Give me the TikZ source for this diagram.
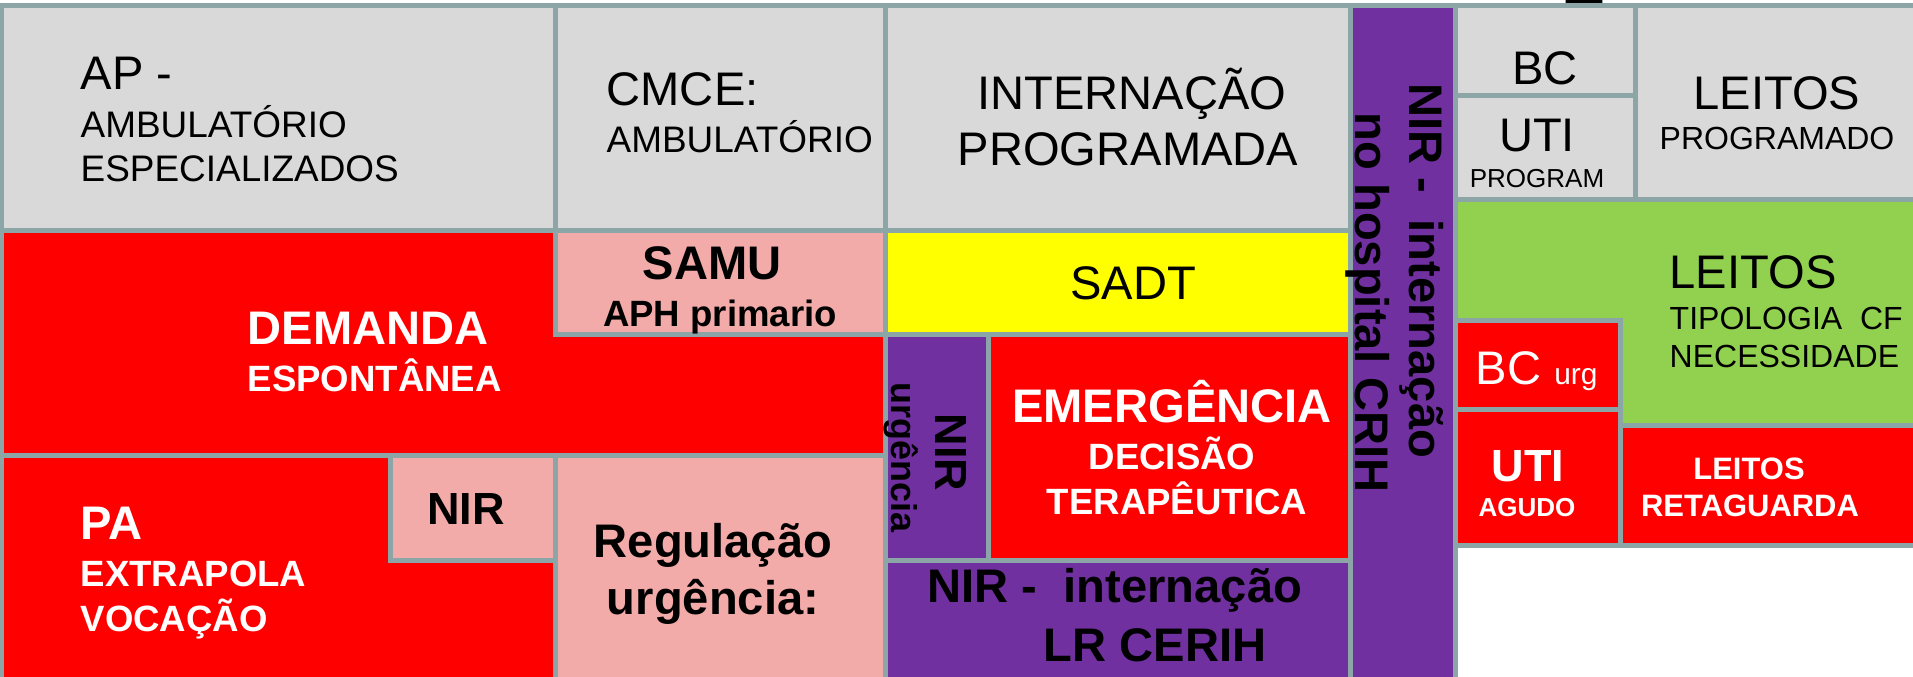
\documentclass[tikz,border=0pt]{standalone}
\usepackage{fontspec}
\setmainfont{Liberation Sans}
\definecolor{cellgray}{RGB}{217,217,217}
\definecolor{linegray}{RGB}{140,165,167}
\definecolor{cellred}{RGB}{255,0,0}
\definecolor{cellpink}{RGB}{242,171,169}
\definecolor{cellyellow}{RGB}{255,255,0}
\definecolor{nirpurple}{RGB}{112,48,160}
\definecolor{cellgreen}{RGB}{146,208,80}
\tikzset{
  cell/.style={draw=linegray, line width=0.05cm},
  lbl/.style={inner sep=0pt, anchor=base},
  lblw/.style={inner sep=0pt, anchor=base west},
  txtbig/.style={font=\fontsize{13.4}{16}\selectfont},
  txtmid/.style={font=\fontsize{10.5}{12}\selectfont},
  txtsml/.style={font=\fontsize{9.1}{11}\selectfont},
  txtbigb/.style={font=\fontsize{13.4}{16}\selectfont\bfseries},
  txtmidb/.style={font=\fontsize{10.4}{12}\selectfont\bfseries},
  txtsmlb/.style={font=\fontsize{8.8}{10}\selectfont\bfseries},
}

\begin{document}
\begin{tikzpicture}[x=0.01cm, y=-0.01cm]
  \useasboundingbox (0,0) rectangle (1913,677);
  \clip (0,0) rectangle (1913,677);

  % Linha superior (programado)
  \draw[cell, fill=cellgray] (1.5,5.5) rectangle (555,231);
  \draw[cell, fill=cellgray] (555,5.5) rectangle (885,231);
  \draw[cell, fill=cellgray] (885,5.5) rectangle (1350,231);
  \draw[cell, fill=cellgray] (1455,5.5) rectangle (1635,96);
  \draw[cell, fill=cellgray] (1455,96) rectangle (1635,200);
  \draw[cell, fill=cellgray] (1635,5.5) rectangle (1916,200);
  \draw[fill=black, draw=linegray, line width=0.01cm] (1565,-2) rectangle (1602,3.5);

  % Urgencia
  \draw[cell, fill=cellred] (1.5,231) -- (555,231) -- (555,335) -- (885,335)
    -- (885,456) -- (1.5,456) -- cycle;
  \draw[cell, fill=cellpink] (555,231) rectangle (885,335);
  \draw[cell, fill=cellyellow] (885,231) rectangle (1350,335);
  \draw[cell, fill=cellred] (1.5,456) -- (390,456) -- (390,561) -- (555,561)
    -- (555,680) -- (1.5,680) -- cycle;
  \draw[cell, fill=cellpink] (390,456) rectangle (555,561);
  \draw[cell, fill=cellpink] (555,456) rectangle (885,680);
  \draw[cell, fill=nirpurple] (885,335) rectangle (988,561);
  \draw[cell, fill=cellred] (988,335) rectangle (1350,561);
  \draw[cell, fill=nirpurple] (885,561) rectangle (1350,680);

  % NIR hospital
  \draw[cell, fill=nirpurple] (1350,5.5) rectangle (1455,680);

  % Leitos
  \draw[cell, fill=cellgreen] (1455,200) -- (1916,200) -- (1916,426) -- (1620,426)
    -- (1620,321) -- (1455,321) -- cycle;
  \draw[cell, fill=cellred] (1455,321) rectangle (1620,410);
  \draw[cell, fill=cellred] (1455,410) rectangle (1620,546);
  \draw[cell, fill=cellred] (1620,426) rectangle (1916,546);

  % Textos
  \node[lblw, txtbig] (ap) at (80,90) {AP -};
  \node[lblw, txtmid] (apamb) at (80,138) {AMBULATÓRIO};
  \node[lblw, txtmid] (apesp) at (80,182) {ESPECIALIZADOS};
  \node[lblw, txtbig] (cmce) at (606,106) {CMCE:};
  \node[lblw, txtmid] (cmceamb) at (606,153) {AMBULATÓRIO};
  \node[lbl, txtbig] (intern) at (1132,110) {INTERNAÇÃO};
  \node[lbl, txtbig] (internprog) at (1128,166) {PROGRAMADA};
  \node[lbl, txtbig] (bc) at (1545,85) {BC};
  \node[lbl, txtbig] (uti) at (1537,152) {UTI};
  \node[lbl, font=\fontsize{7.4}{9}\selectfont] (utiprog) at (1537,188) {PROGRAM};
  \node[lbl, txtbig] (leit) at (1777,110) {LEITOS};
  \node[lbl, txtsml] (leitprog) at (1777,150) {PROGRAMADO};
  \node[lblw, txtbig] (leitcf) at (1669,289) {LEITOS};
  \node[lblw, txtsml] (leittip) at (1669,330) {TIPOLOGIA\ \ CF};
  \node[lblw, txtsml] (leitnec) at (1669,368) {NECESSIDADE};
  \node[lblw, txtbig, white] (bcurg) at (1475,385) {BC {\fontsize{8.5}{10}\selectfont urg}};
  \node[lbl, font=\fontsize{12.8}{15}\selectfont\bfseries, white] (utiag) at (1528,482) {UTI};
  \node[lbl, font=\fontsize{7.4}{9}\selectfont\bfseries, white] (utiagudo) at (1527,517) {AGUDO};
  \node[lbl, txtsmlb, white] (leitret) at (1749,480) {LEITOS};
  \node[lbl, txtsmlb, white] (leitretag) at (1750,517) {RETAGUARDA};
  \node[lbl, txtbigb] (samu) at (712,280) {SAMU};
  \node[lbl, txtmidb] (samuaph) at (720,327) {APH primario};
  \node[lbl, txtbig] (sadt) at (1133,300) {SADT};
  \node[lblw, txtbigb, white] (dem) at (247,345) {DEMANDA};
  \node[lblw, txtmidb, white] (demesp) at (247,392) {ESPONTÂNEA};
  \node[lblw, txtbigb, white] (pa) at (80,540) {PA};
  \node[lblw, txtmidb, white] (paext) at (80,587) {EXTRAPOLA};
  \node[lblw, txtmidb, white] (pavoc) at (80,632) {VOCAÇÃO};
  \node[lbl, font=\fontsize{12.8}{15}\selectfont\bfseries] (nirpa) at (466,525) {NIR};
  \node[lbl, txtbigb] (reg) at (713,558) {Regulação};
  \node[lbl, txtbigb] (regurg) at (713,615) {urgência:};
  \node[lbl, txtbigb, white] (emerg) at (1172,423) {EMERGÊNCIA};
  \node[lbl, txtmidb, white] (emergdec) at (1172,470) {DECISÃO};
  \node[lbl, txtmidb, white] (emergter) at (1177,515) {TERAPÊUTICA};
  \node[lblw, txtbigb] (nirlr) at (927,603) {NIR -\ \ internação};
  \node[lbl, txtbigb] (nirlrcerih) at (1155,662) {LR CERIH};
  \node[lblw, rotate=-90, font=\fontsize{12.8}{15}\selectfont\bfseries] (niru) at (935,413) {NIR};
  \node[lblw, rotate=-90, font=\fontsize{10.2}{12}\selectfont\bfseries] (nirurg) at (891,382) {urgência};
  \node[lblw, rotate=-90, txtbigb] (nirh) at (1409,83) {NIR -\ \ internação};
  \node[lblw, rotate=-90, txtbigb] (nirhcrih) at (1355,112) {no hospital CRIH};
\end{tikzpicture}
\end{document}
